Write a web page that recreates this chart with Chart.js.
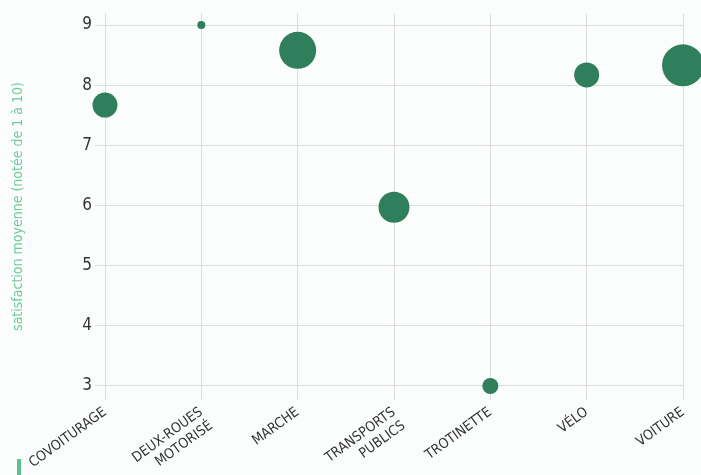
<!DOCTYPE html>
<html lang="fr">
<head>
<meta charset="utf-8">
<title>Satisfaction par mode de transport</title>
<script src="https://cdn.jsdelivr.net/npm/chart.js@4/dist/chart.umd.min.js"></script>
<style>
    html, body { margin: 0; padding: 0; background: #fbfdfd; }
    #wrap { position: relative; width: 701px; height: 475px; }
    #marque { position: absolute; left: 17px; top: 459px; width: 4px; height: 16px; background: #5cbf8c; }
</style>
</head>
<body>
<div id="wrap">
    <canvas id="graphique" width="701" height="475"></canvas>
    <div id="marque"></div>
</div>
<script>
// Données
const modes = ['COVOITURAGE', ['DEUX-ROUES', 'MOTORISÉ'], 'MARCHE', ['TRANSPORTS', 'PUBLICS'], 'TROTINETTE', 'VÉLO', 'VOITURE'];
const satisfaction = [7.67, 9.0, 8.58, 5.97, 3.0, 8.17, 8.33];
const taille = [12.5, 4, 18.5, 15.5, 8, 12.5, 21];
const graduationsY = [3, 4, 5, 6, 7, 8, 9];

const vert = '#2f7f5c';
const police = "'Liberation Sans Narrow', 'DejaVu Sans Condensed', sans-serif";

// Les bulles débordent de la zone du graphique : pas de marge automatique
Chart.BubbleController.prototype.getMaxOverflow = () => false;

function construirePoints() {
    return modes.map((m, i) => ({ x: i, y: satisfaction[i], r: taille[i] }));
}

function creerGraphique(canvasId) {
    return new Chart(document.getElementById(canvasId), {
        type: 'bubble',
        data: {
            datasets: [{
                data: construirePoints(),
                backgroundColor: vert,
                borderColor: vert,
                borderWidth: 0,
                clip: false
            }]
        },
        options: {
            responsive: false,
            animation: false,
            layout: { padding: { top: 13, right: 18 } },
            plugins: {
                legend: { display: false },
                tooltip: { enabled: false }
            },
            scales: {
                x: {
                    type: 'linear',
                    min: 0,
                    max: modes.length - 1,
                    afterBuildTicks: (axis) => {
                        axis.ticks = modes.map((m, i) => ({ value: i }));
                    },
                    afterFit: (axis) => {
                        axis.height = 75;
                        axis.paddingRight = 0;
                    },
                    ticks: {
                        callback: (v) => modes[v],
                        minRotation: 36,
                        maxRotation: 36,
                        autoSkip: false,
                        color: '#333',
                        padding: 4,
                        font: { family: police, size: 14 }
                    },
                    grid: { color: '#dcdcdc', drawTicks: false, tickLength: 0 },
                    border: { display: false }
                },
                y: {
                    min: 2.767,
                    max: 9.2,
                    afterBuildTicks: (axis) => {
                        axis.ticks = graduationsY.map(v => ({ value: v }));
                    },
                    afterFit: (axis) => {
                        axis.width = 105;
                        axis.paddingTop = 0;
                    },
                    ticks: {
                        color: '#333',
                        padding: 3,
                        font: { family: police, size: 17 }
                    },
                    grid: { color: '#dcdcdc', tickLength: 10 },
                    border: { display: false },
                    title: {
                        display: true,
                        text: 'satisfaction moyenne (notée de 1 à 10)',
                        color: '#6cc99a',
                        padding: { top: 10, bottom: 4 },
                        font: { family: police, size: 14 }
                    }
                }
            }
        }
    });
}

document.addEventListener('DOMContentLoaded', () => {
    creerGraphique('graphique');
});
</script>
</body>
</html>
